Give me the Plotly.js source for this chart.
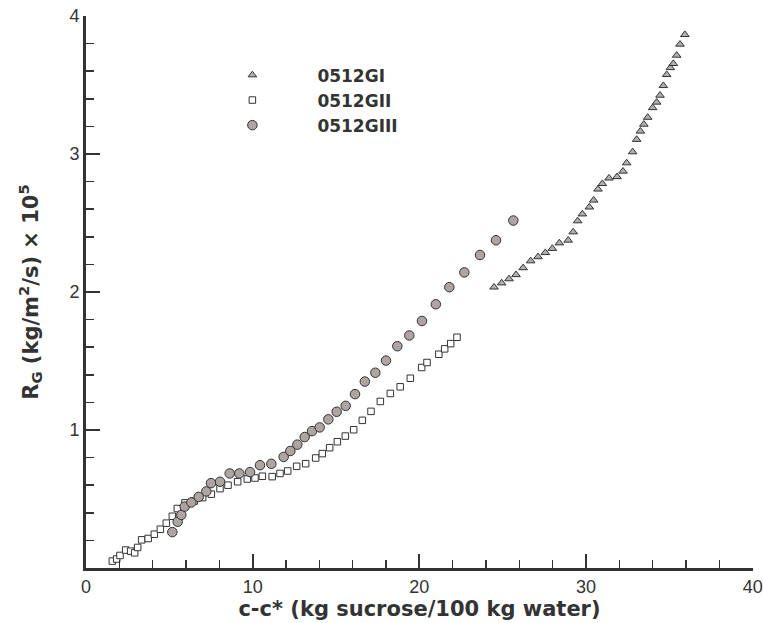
<!DOCTYPE html>
<html>
<head>
<meta charset="utf-8">
<script src="https://cdn.plot.ly/plotly-3.0.1.min.js"></script>
<style>
  html, body { margin: 0; padding: 0; background: #fff; }
  #chart { width: 763px; height: 623px; }
</style>
</head>
<body>
<div id="chart"></div>
<script>
// Growth rate R_G versus supersaturation c-c* for three runs

const seriesNames = ["0512GI", "0512GII", "0512GIII"];

// 0512GI (triangles)
const gI_x = [24.48, 24.94, 25.38, 25.80, 26.23, 26.68, 27.12, 27.56, 27.98, 28.40,
              28.93, 29.23, 29.50, 29.78, 30.20, 30.46, 30.72, 30.98, 31.38, 31.86,
              32.22, 32.44, 32.80, 33.04, 33.26, 33.47, 33.70, 34.00, 34.24, 34.44,
              34.64, 34.84, 35.06, 35.24, 35.44, 35.64, 35.93];
const gI_y = [2.035, 2.065, 2.095, 2.125, 2.175, 2.225, 2.255, 2.285, 2.315, 2.355,
              2.375, 2.435, 2.515, 2.565, 2.615, 2.665, 2.745, 2.785, 2.825, 2.835,
              2.875, 2.935, 3.015, 3.105, 3.165, 3.215, 3.265, 3.335, 3.375, 3.425,
              3.495, 3.575, 3.625, 3.655, 3.715, 3.795, 3.865];

// 0512GII (open squares)
const gII_x = [1.58, 1.84, 2.04, 2.38, 2.68, 2.92, 3.10, 3.34, 3.73, 4.10,
               4.46, 4.82, 5.18, 5.48, 5.94, 6.49, 7.00, 7.52, 8.04, 8.52,
               9.10, 9.68, 10.14, 10.58, 11.17, 11.64, 12.10, 12.64, 13.18, 13.78,
               14.18, 14.62, 15.08, 15.56, 16.06, 16.58, 17.10, 17.66, 18.26, 18.85,
               19.46, 20.14, 20.46, 21.17, 21.52, 21.88, 22.26];
const gII_y = [0.050, 0.065, 0.091, 0.130, 0.122, 0.110, 0.149, 0.204, 0.214, 0.245,
               0.281, 0.325, 0.375, 0.431, 0.472, 0.485, 0.510, 0.535, 0.575, 0.600,
               0.625, 0.645, 0.652, 0.665, 0.662, 0.685, 0.703, 0.737, 0.756, 0.797,
               0.829, 0.872, 0.915, 0.956, 1.002, 1.070, 1.135, 1.207, 1.265, 1.313,
               1.375, 1.453, 1.489, 1.549, 1.588, 1.626, 1.672];

// 0512GIII (filled circles)
const gIII_x = [5.18, 5.50, 5.72, 5.92, 6.32, 6.76, 7.22, 7.50, 8.04, 8.62,
                9.20, 9.84, 10.44, 11.12, 11.86, 12.26, 12.68, 13.12, 13.56, 14.02,
                14.54, 15.04, 15.58, 16.14, 16.73, 17.36, 18.00, 18.68, 19.40, 20.16,
                20.99, 21.80, 22.70, 23.64, 24.60, 25.64];
const gIII_y = [0.260, 0.335, 0.385, 0.445, 0.475, 0.515, 0.555, 0.615, 0.625, 0.685,
                0.685, 0.695, 0.745, 0.755, 0.805, 0.848, 0.894, 0.949, 0.992, 1.019,
                1.077, 1.132, 1.175, 1.260, 1.351, 1.415, 1.503, 1.607, 1.685, 1.790,
                1.911, 2.035, 2.142, 2.268, 2.375, 2.518];

const xTickVals = [0, 10, 20, 30, 40];
const yTickVals = [1, 2, 3, 4];

const ink = "#333333";
const edge = { color: "#333333", width: 1 };

const traces = [
  {
    name: seriesNames[0], x: gI_x, y: gI_y, type: "scatter", mode: "markers",
    marker: { symbol: "triangle-up", size: 7.5, color: "#b3afad", line: edge }
  },
  {
    name: seriesNames[1], x: gII_x, y: gII_y, type: "scatter", mode: "markers",
    marker: { symbol: "square", size: 6.5, color: "#ffffff", line: edge }
  },
  {
    name: seriesNames[2], x: gIII_x, y: gIII_y, type: "scatter", mode: "markers",
    marker: { symbol: "circle", size: 9.5, color: "#aea5a2", line: edge }
  }
];

const axisCommon = {
  showgrid: false, zeroline: false, showline: true,
  linecolor: ink, linewidth: 3,
  ticks: "inside", tickcolor: ink, tickwidth: 2, ticklen: 14,
  tickfont: { family: "Liberation Sans, Arial, sans-serif", size: 18, color: ink },
  mirror: false
};

const layout = {
  width: 763, height: 623,
  margin: { l: 86, r: 10, t: 16, b: 55 },
  paper_bgcolor: "#ffffff", plot_bgcolor: "#ffffff",
  showlegend: true,
  legend: {
    x: 0.152, y: 0.925, xanchor: "left", yanchor: "top",
    bgcolor: "rgba(0,0,0,0)", borderwidth: 0,
    itemwidth: 120,
    font: { family: "DejaVu Sans, sans-serif", size: 17, color: ink, weight: "bold" }
  },
  xaxis: Object.assign({}, axisCommon, {
    range: [0, 40.02], tickmode: "array", tickvals: xTickVals,
    ticktext: xTickVals.map(String),
    minor: { dtick: 2, tick0: 0, ticks: "inside", ticklen: 8, tickwidth: 1.5, tickcolor: ink },
    title: {
      text: "c-c* (kg sucrose/100 kg water)",
      font: { family: "DejaVu Sans, sans-serif", size: 21, color: ink, weight: "bold" },
      standoff: 0
    }
  }),
  yaxis: Object.assign({}, axisCommon, {
    range: [0, 4], tickmode: "array", tickvals: yTickVals,
    ticktext: yTickVals.map(String),
    minor: { dtick: 0.2, tick0: 0, ticks: "inside", ticklen: 8, tickwidth: 1.5, tickcolor: ink },
    title: {
      text: "R<sub>G</sub> (kg/m<sup>2</sup>/s) × 10<sup>5</sup>",
      font: { family: "DejaVu Sans, sans-serif", size: 21, color: ink, weight: "bold" },
      standoff: 26
    }
  })
};

Plotly.newPlot("chart", traces, layout, { staticPlot: true, displayModeBar: false });
</script>
</body>
</html>
